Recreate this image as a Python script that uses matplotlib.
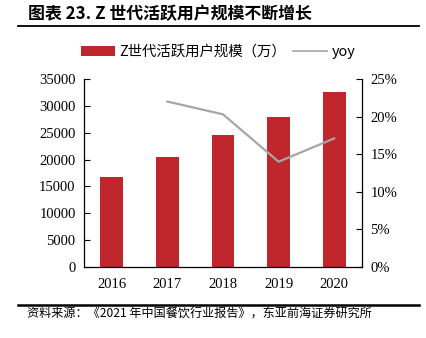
import matplotlib
matplotlib.use("Agg")
import matplotlib.pyplot as plt
from matplotlib.lines import Line2D
from matplotlib.patches import Patch

years = ["2016", "2017", "2018", "2019", "2020"]
users = [16700, 20400, 24500, 27900, 32600]
yoy_years = ["2017", "2018", "2019", "2020"]
yoy = [22.0, 20.3, 14.0, 17.1]
left_ticks = [0, 5000, 10000, 15000, 20000, 25000, 30000, 35000]
right_ticks = [0, 5, 10, 15, 20, 25]

cjk = ["Noto Sans CJK SC", "DejaVu Sans"]
serif = ["Liberation Serif", "DejaVu Serif"]
bar_color = "#C0272D"
line_color = "#A6A6A6"

fig = plt.figure(figsize=(4.26, 3.38), dpi=100)
ax = fig.add_axes([84/426, 1-267/338, (362-84)/426, (267-79)/338])
x = list(range(len(years)))
ax.bar(x, users, width=0.41, color=bar_color, zorder=2)
ax.set_xlim(-0.5, 4.5)
ax.set_ylim(0, 35000)
ax.set_yticks(left_ticks)
ax.set_yticklabels([str(v) for v in left_ticks], fontfamily=serif, fontsize=10.5)
ax.set_xticks(x)
ax.set_xticklabels(years, fontfamily=serif, fontsize=10.5)
ax.tick_params(axis="x", length=0, pad=8)
ax.tick_params(axis="y", direction="in", length=4, width=0.8, pad=6)
for s in ["top", "right"]:
    ax.spines[s].set_visible(False)
for s in ["left", "bottom"]:
    ax.spines[s].set_linewidth(0.9)

ax2 = ax.twinx()
xi = [years.index(y) for y in yoy_years]
ax2.plot(xi, yoy, color=line_color, linewidth=1.6, zorder=3)
ax2.set_ylim(0, 25)
ax2.set_yticks(right_ticks)
ax2.set_yticklabels([f"{v}%" for v in right_ticks], fontfamily=serif, fontsize=10.5)
ax2.tick_params(axis="y", direction="in", length=4, width=0.8, pad=6)
for s in ["top", "left", "bottom"]:
    ax2.spines[s].set_visible(False)
ax2.spines["right"].set_linewidth(0.9)

handles = [Patch(facecolor=bar_color, edgecolor="none"),
           Line2D([0], [0], color=line_color, linewidth=1.2)]
fig.legend(handles, ["Z世代活跃用户规模（万）", "yoy"], loc="center",
           bbox_to_anchor=(218/426, 1-52/338), ncol=2, frameon=False,
           prop={"family": cjk, "size": 10.4}, handlelength=2.35, handleheight=0.75,
           columnspacing=0.5, handletextpad=0.3)

fig.text(28/426, 1-14/338, "图表 23. Z 世代活跃用户规模不断增长", fontfamily=cjk,
         fontsize=12.2, fontweight="bold", va="center", ha="left")
fig.add_artist(Line2D([18/426, 419/426], [1-25.7/338]*2, color="black", linewidth=1.3))
fig.add_artist(Line2D([18/426, 419/426], [1-304.5/338]*2, color="black", linewidth=1.8))
fig.text(27/426, 1-314/338, "资料来源：《2021 年中国餐饮行业报告》，东亚前海证券研究所",
         fontfamily=cjk, fontsize=8.7, va="center", ha="left")

fig.savefig("out.png", dpi=100)
